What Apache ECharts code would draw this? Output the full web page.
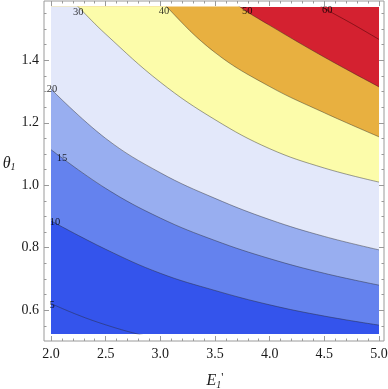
<!DOCTYPE html>
<html>
<head>
<meta charset="utf-8">
<script src="https://cdn.jsdelivr.net/npm/echarts@6/dist/echarts.min.js"></script>
<style>
html, body { margin: 0; padding: 0; background: #fff; }
#chart { width: 388px; height: 389px; }
</style>
</head>
<body>
<div id="chart"></div>
<script>
// plot range
const xMin = 2, xMax = 5
const yMin = Math.PI / 6, yMax = Math.PI / 2

// tick values
const xMajorStep = 0.5
const yMajor = [0.6, 0.8, 1.0, 1.2, 1.4]
const yMinor = [0.55, 0.65, 0.7, 0.75, 0.85, 0.9, 0.95, 1.05, 1.1, 1.15, 1.25, 1.3, 1.35, 1.45, 1.5, 1.55]

// contour levels and the lines, [E1', theta1]
const levels = [5, 10, 15, 20, 30, 40, 50, 60]
const line5 = [[2.0, 0.621], [2.25, 0.584], [2.5, 0.553], [2.79, 0.5236], [3.2, 0.49]]
const line10 = [[2.0, 0.886], [2.5, 0.795], [3.0, 0.718], [3.5, 0.663], [4.0, 0.617], [4.5, 0.581], [5.0, 0.552]]
const line15 = [[2.0, 1.114], [2.5, 0.99], [3.0, 0.895], [3.5, 0.823], [4.0, 0.765], [4.5, 0.718], [5.0, 0.68]]
const line20 = [[2.0, 1.308], [2.5, 1.15], [3.0, 1.04], [3.5, 0.958], [4.0, 0.89], [4.5, 0.836], [5.0, 0.793]]
const line30 = [[2.0, 1.66], [2.25, 1.571], [2.5, 1.484], [3.0, 1.33], [3.5, 1.21], [4.0, 1.117], [4.5, 1.055], [5.0, 1.01]]
const line40 = [[2.0, 2.0], [2.5, 1.79], [3.06, 1.571], [3.5, 1.425], [4.0, 1.316], [4.5, 1.232], [5.0, 1.155]]
const line50 = [[2.0, 1.98], [3.0, 1.76], [3.73, 1.571], [4.0, 1.512], [4.5, 1.41], [5.0, 1.315]]
const line60 = [[4.0, 1.68], [4.48, 1.571], [4.75, 1.518], [5.0, 1.467]]
const lines = [line5, line10, line15, line20, line30, line40, line50, line60]

// band colour below each level (the band above 50 is the plot background)
const bandBelow = {
	10: '#3454ec',
	15: '#6482ee',
	20: '#98aef0',
	30: '#e3e8fa',
	40: '#fcfcaa',
	50: '#e8b040',
}
const topBand = '#d42130'
const labelOffset = {
	5: [1, 1.5],
	10: [4, 1],
	15: [11, 9],
	20: [1, 0],
	30: [0, 5],
	40: [-3, 4],
	50: [7, 4],
	60: [5, 3],
}

const serif = 'Liberation Serif'
const tickColor = '#9a9a9a'
const textColor = '#1a1a1a'

const chart = echarts.init(document.getElementById('chart'), null, { renderer: 'canvas' })

const series = []
for (let i = levels.length - 1; i >= 0; i--) {
	const lvl = levels[i]
	const s = {
		type: 'line',
		xAxisIndex: 0,
		yAxisIndex: 0,
		data: lines[i],
		smooth: 0.4,
		symbol: 'none',
		silent: true,
		lineStyle: { color: lvl === 60 ? 'rgba(60,0,0,0.6)' : 'rgba(40,40,40,0.55)', width: 0.8 },
		z: 2,
	}
	if (bandBelow[lvl]) {
		s.areaStyle = { color: bandBelow[lvl], opacity: 1, origin: 'start' }
	}
	series.push(s)
}

// contour labels at the first point of each line inside the plot
const labelData = levels.map((lvl, i) => {
	const p = lines[i].find((a) => a[0] >= xMin - 1e-9 && a[1] <= yMax + 1e-3 && a[1] >= yMin - 1e-3)
	return { value: [p[0], Math.min(p[1], yMax), lvl], label: { offset: labelOffset[lvl] } }
})
series.push({
	type: 'scatter',
	xAxisIndex: 0,
	yAxisIndex: 0,
	data: labelData,
	symbolSize: 2,
	itemStyle: { color: 'rgba(0,0,0,0)' },
	clip: false,
	silent: true,
	z: 5,
	label: {
		show: true,
		position: 'inside',
		formatter: (p) => String(p.value[2]),
		fontFamily: serif,
		fontSize: 10.5,
		color: '#000',
	},
})

const tickFont = { fontFamily: serif, fontSize: 14, color: textColor }

const option = {
	animation: false,
	backgroundColor: '#fff',
	grid: [
		{
			left: 51, right: 9, top: 7, bottom: 55,
			show: true, backgroundColor: topBand, borderWidth: 0,
			containLabel: false, outerBoundsMode: 'none',
		},
		{
			left: 44, right: 4, top: 1, bottom: 48,
			show: true, backgroundColor: 'transparent', borderColor: tickColor, borderWidth: 1,
			containLabel: false, outerBoundsMode: 'none',
		},
	],
	xAxis: [
		{
			gridIndex: 0, type: 'value', position: 'bottom', offset: 7,
			min: xMin, max: xMax, interval: xMajorStep,
			axisLine: { show: false },
			axisTick: { show: true, inside: true, length: 5, lineStyle: { color: tickColor } },
			minorTick: { show: true, splitNumber: 5, length: 2.5, lineStyle: { color: tickColor } },
			splitLine: { show: false },
			axisLabel: { ...tickFont, margin: 6, formatter: (v) => v.toFixed(1) },
			name: '{i|E}{s|1}{p|\'}',
			nameLocation: 'middle',
			nameGap: 31,
			nameTextStyle: {
				rich: {
					i: { fontFamily: serif, fontStyle: 'italic', fontSize: 16, color: textColor, lineHeight: 18 },
					s: { fontFamily: serif, fontStyle: 'italic', fontSize: 10, color: textColor, verticalAlign: 'bottom', lineHeight: 10 },
					p: { fontFamily: serif, fontSize: 12, color: textColor, verticalAlign: 'top', lineHeight: 10 },
				},
			},
		},
		{
			gridIndex: 0, type: 'value', position: 'top', offset: 6,
			min: xMin, max: xMax, interval: xMajorStep,
			axisLine: { show: false },
			axisTick: { show: true, inside: true, length: 5, lineStyle: { color: tickColor } },
			minorTick: { show: true, splitNumber: 5, length: 2.5, lineStyle: { color: tickColor } },
			splitLine: { show: false },
			axisLabel: { show: false },
		},
		{ gridIndex: 1, type: 'value', show: false, min: 0, max: 1 },
	],
	yAxis: [
		{
			gridIndex: 0, type: 'value', position: 'left', offset: 7,
			min: yMin, max: yMax,
			axisLine: { show: false },
			axisTick: { show: true, inside: true, length: 5, customValues: yMajor, lineStyle: { color: tickColor } },
			splitLine: { show: false },
			axisLabel: { ...tickFont, margin: 5, customValues: yMajor, formatter: (v) => v.toFixed(1) },
			name: '{i|θ}{s|1}',
			nameLocation: 'middle',
			nameRotate: 0,
			nameGap: 23,
			nameTextStyle: {
				padding: [0, 0, 14, 0],
				rich: {
					i: { fontFamily: serif, fontStyle: 'italic', fontSize: 16, color: textColor, lineHeight: 18 },
					s: { fontFamily: serif, fontStyle: 'italic', fontSize: 10, color: textColor, verticalAlign: 'bottom', lineHeight: 10 },
				},
			},
		},
		{
			gridIndex: 0, type: 'value', position: 'left', offset: 7,
			min: yMin, max: yMax,
			axisLine: { show: false },
			axisTick: { show: true, inside: true, length: 2.5, customValues: yMinor, lineStyle: { color: tickColor } },
			splitLine: { show: false },
			axisLabel: { show: false },
		},
		{
			gridIndex: 0, type: 'value', position: 'right', offset: 5,
			min: yMin, max: yMax,
			axisLine: { show: false },
			axisTick: { show: true, inside: true, length: 5, customValues: yMajor, lineStyle: { color: tickColor } },
			splitLine: { show: false },
			axisLabel: { show: false },
		},
		{
			gridIndex: 0, type: 'value', position: 'right', offset: 5,
			min: yMin, max: yMax,
			axisLine: { show: false },
			axisTick: { show: true, inside: true, length: 2.5, customValues: yMinor, lineStyle: { color: tickColor } },
			splitLine: { show: false },
			axisLabel: { show: false },
		},
		{ gridIndex: 1, type: 'value', show: false, min: 0, max: 1 },
	],
	series: series,
}

chart.setOption(option)
</script>
</body>
</html>
